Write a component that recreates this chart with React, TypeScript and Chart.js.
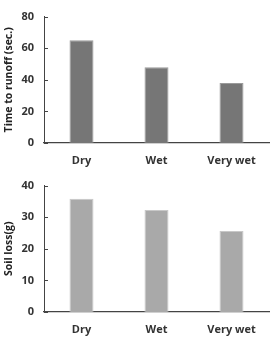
import React, { useEffect, useRef } from "react";
import { Chart, registerables } from "chart.js";

Chart.register(...registerables);

const categories = ["Dry", "Wet", "Very wet"];
const runoffValues = [65, 48, 38];
const soilLossValues = [35.8, 32.3, 25.6];
const runoffTicks = [0, 20, 40, 60, 80];
const soilTicks = [0, 10, 20, 30, 40];

const FONT = "'Open Sans', 'Liberation Sans', sans-serif";

const innerTicks = {
  id: "innerTicks",
  afterDraw(chart: any) {
    const y = chart.scales.y;
    const ctx = chart.ctx;
    ctx.save();
    ctx.strokeStyle = "#444";
    ctx.lineWidth = 1;
    y.ticks.forEach((t: any) => {
      const py = Math.round(y.getPixelForValue(t.value)) + 0.5;
      ctx.beginPath();
      ctx.moveTo(chart.chartArea.left, py);
      ctx.lineTo(chart.chartArea.left + 4, py);
      ctx.stroke();
    });
    ctx.restore();
  },
};

function makeConfig(
  values: number[],
  max: number,
  step: number,
  title: string,
  color: string,
  border: string,
  xHeight: number
): any {
  return {
    type: "bar",
    data: {
      labels: categories,
      datasets: [
        {
          data: values,
          backgroundColor: color,
          borderColor: border,
          borderWidth: 1,
          categoryPercentage: 1,
          barPercentage: 0.32,
        },
      ],
    },
    options: {
      responsive: false,
      animation: false,
      layout: { padding: { top: 10, right: 5, left: 0, bottom: 0 } },
      plugins: { legend: { display: false }, tooltip: { enabled: false } },
      scales: {
        x: {
          grid: { display: false, drawTicks: false },
          border: { display: true, color: "#444", width: 1.2 },
          ticks: {
            padding: 11,
            color: "#333",
            font: { family: FONT, size: 11, weight: "bold" },
          },
          afterFit: (s: any) => {
            s.height = xHeight;
          },
        },
        y: {
          min: 0,
          max,
          ticks: {
            stepSize: step,
            padding: 10,
            color: "#333",
            font: { family: FONT, size: 11, weight: "bold" },
          },
          grid: { display: false, drawTicks: false },
          border: { display: true, color: "#444", width: 1 },
          title: {
            display: true,
            text: title,
            color: "#222",
            padding: { top: 3, bottom: 0 },
            font: { family: FONT, size: 10.5, weight: "bold" },
          },
          afterFit: (s: any) => {
            s.width = 44;
          },
        },
      },
    },
    plugins: [innerTicks],
  };
}

function BarChart(props: {
  values: number[];
  max: number;
  step: number;
  title: string;
  color: string;
  border: string;
  height: number;
  xHeight: number;
}) {
  const ref = useRef<HTMLCanvasElement>(null);
  useEffect(() => {
    if (!ref.current) return;
    const chart = new Chart(
      ref.current,
      makeConfig(props.values, props.max, props.step, props.title, props.color, props.border, props.xHeight)
    );
    return () => chart.destroy();
  }, []);
  return (
    <canvas
      ref={ref}
      width={274}
      height={props.height}
      style={{ display: "block", width: 274, height: props.height }}
    />
  );
}

export default function App() {
  return (
    <div
      style={{
        position: "absolute",
        left: 0,
        top: 0,
        width: 274,
        height: 339,
        background: "#fff",
      }}
    >
      <BarChart
        values={runoffValues}
        max={runoffTicks[runoffTicks.length - 1]}
        step={runoffTicks[1] - runoffTicks[0]}
        title="Time to runoff (sec.)"
        color="#767676"
        border="#9a9a9a"
        height={169}
        xHeight={26}
      />
      <BarChart
        values={soilLossValues}
        max={soilTicks[soilTicks.length - 1]}
        step={soilTicks[1] - soilTicks[0]}
        title="Soil loss(g)"
        color="#a9a9a9"
        border="#c8c8c8"
        height={170}
        xHeight={27}
      />
    </div>
  );
}
